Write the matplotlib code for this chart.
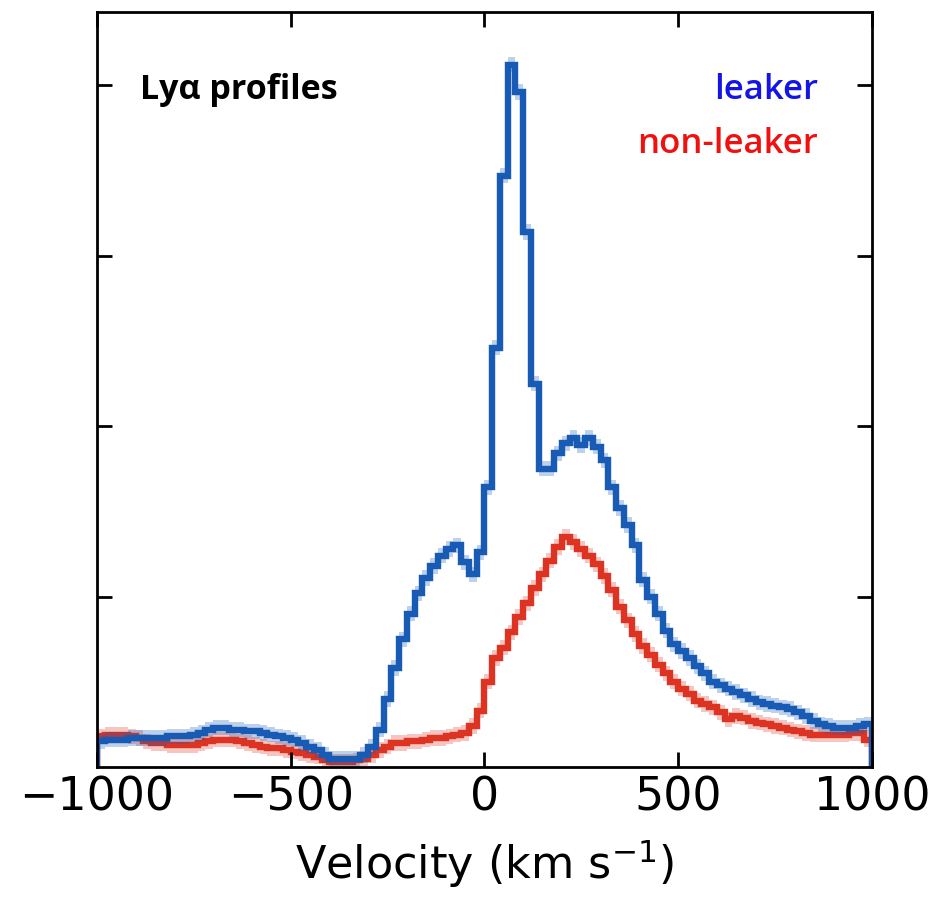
import numpy as np
import matplotlib
matplotlib.use("Agg")
import matplotlib.pyplot as plt

# velocity bin edges (km/s), 20 km/s bins
vel_edges = np.arange(-1000, 1001, 20)

# stacked Lya profile, LyC leakers (arbitrary flux units)
leaker_flux = [
    0.15, 0.16, 0.16, 0.16, 0.17, 0.17, 0.17, 0.17, 0.17, 0.18,
    0.18, 0.18, 0.19, 0.20, 0.22, 0.23, 0.23, 0.22, 0.22, 0.21,
    0.21, 0.20, 0.19, 0.18, 0.17, 0.16, 0.14, 0.12, 0.10, 0.07,
    0.05, 0.05, 0.05, 0.05, 0.07, 0.12, 0.22, 0.40, 0.58, 0.75,
    0.90, 1.02, 1.11, 1.18, 1.24, 1.28, 1.30, 1.20, 1.13, 1.26,
    1.64, 2.46, 3.47, 4.12, 3.96, 3.14, 2.25, 1.75, 1.75, 1.84,
    1.90, 1.93, 1.89, 1.93, 1.88, 1.80, 1.64, 1.52, 1.42, 1.30,
    1.10, 1.00, 0.90, 0.80, 0.72, 0.68, 0.64, 0.59, 0.55, 0.50,
    0.48, 0.46, 0.44, 0.42, 0.40, 0.38, 0.37, 0.36, 0.35, 0.34,
    0.32, 0.30, 0.27, 0.25, 0.24, 0.23, 0.23, 0.23, 0.24, 0.25,
]

# stacked Lya profile, non-leakers
nonleaker_flux = [
    0.18, 0.19, 0.19, 0.19, 0.18, 0.17, 0.15, 0.14, 0.14, 0.13,
    0.13, 0.13, 0.13, 0.14, 0.15, 0.16, 0.16, 0.16, 0.15, 0.14,
    0.13, 0.12, 0.11, 0.11, 0.10, 0.09, 0.08, 0.07, 0.06, 0.04,
    0.03, 0.03, 0.03, 0.04, 0.05, 0.07, 0.10, 0.12, 0.14, 0.14,
    0.15, 0.15, 0.16, 0.17, 0.17, 0.18, 0.19, 0.20, 0.24, 0.33,
    0.50, 0.64, 0.70, 0.79, 0.88, 0.96, 1.05, 1.13, 1.21, 1.29,
    1.35, 1.32, 1.28, 1.24, 1.19, 1.12, 1.04, 0.94, 0.86, 0.78,
    0.71, 0.66, 0.60, 0.55, 0.50, 0.46, 0.43, 0.39, 0.37, 0.35,
    0.32, 0.28, 0.30, 0.29, 0.27, 0.26, 0.25, 0.24, 0.23, 0.22,
    0.21, 0.20, 0.19, 0.19, 0.19, 0.19, 0.19, 0.20, 0.20, 0.16,
]

leaker_err = 0.045
nonleaker_err = 0.045

blue = "#175bb5"
red = "#dc3322"

fig = plt.figure(figsize=(9.47, 8.99), dpi=100)
ax = fig.add_axes([0.1024, 0.1468, 0.8184, 0.8399])

for flux, err, col in [(nonleaker_flux, nonleaker_err, red), (leaker_flux, leaker_err, blue)]:
    flux = np.asarray(flux)
    ax.stairs(flux + err, vel_edges, baseline=flux - err, fill=True,
              color=col, alpha=0.28, lw=0)
    ax.stairs(flux, vel_edges, color=col, lw=4.6)

ax.set_xlim(-1000, 1000)
ax.set_ylim(0, 4.43)
ax.set_xticks([-1000, -500, 0, 500, 1000])
ax.set_yticks([1, 2, 3, 4])
ax.set_yticklabels([])
ax.tick_params(direction="in", top=True, right=True, length=11, width=2,
               labelsize=33, pad=6)
for sp in ax.spines.values():
    sp.set_linewidth(2)
ax.set_xlabel("Velocity (km s$^{-1}$)", fontsize=32, labelpad=12)

ax.text(0.055, 0.885, "Lyα profiles", transform=ax.transAxes,
        fontsize=24.5, fontweight="bold", family=["Open Sans", "DejaVu Sans"],
        ha="left", va="baseline")
ax.text(0.930, 0.885, "leaker", transform=ax.transAxes, color="#1414e6",
        fontsize=25, fontweight="semibold", family=["Open Sans", "DejaVu Sans"],
        ha="right", va="baseline")
ax.text(0.930, 0.813, "non-leaker", transform=ax.transAxes, color="#f01010",
        fontsize=25, fontweight="semibold", family=["Open Sans", "DejaVu Sans"],
        ha="right", va="baseline")

fig.savefig("out.png", dpi=100)
